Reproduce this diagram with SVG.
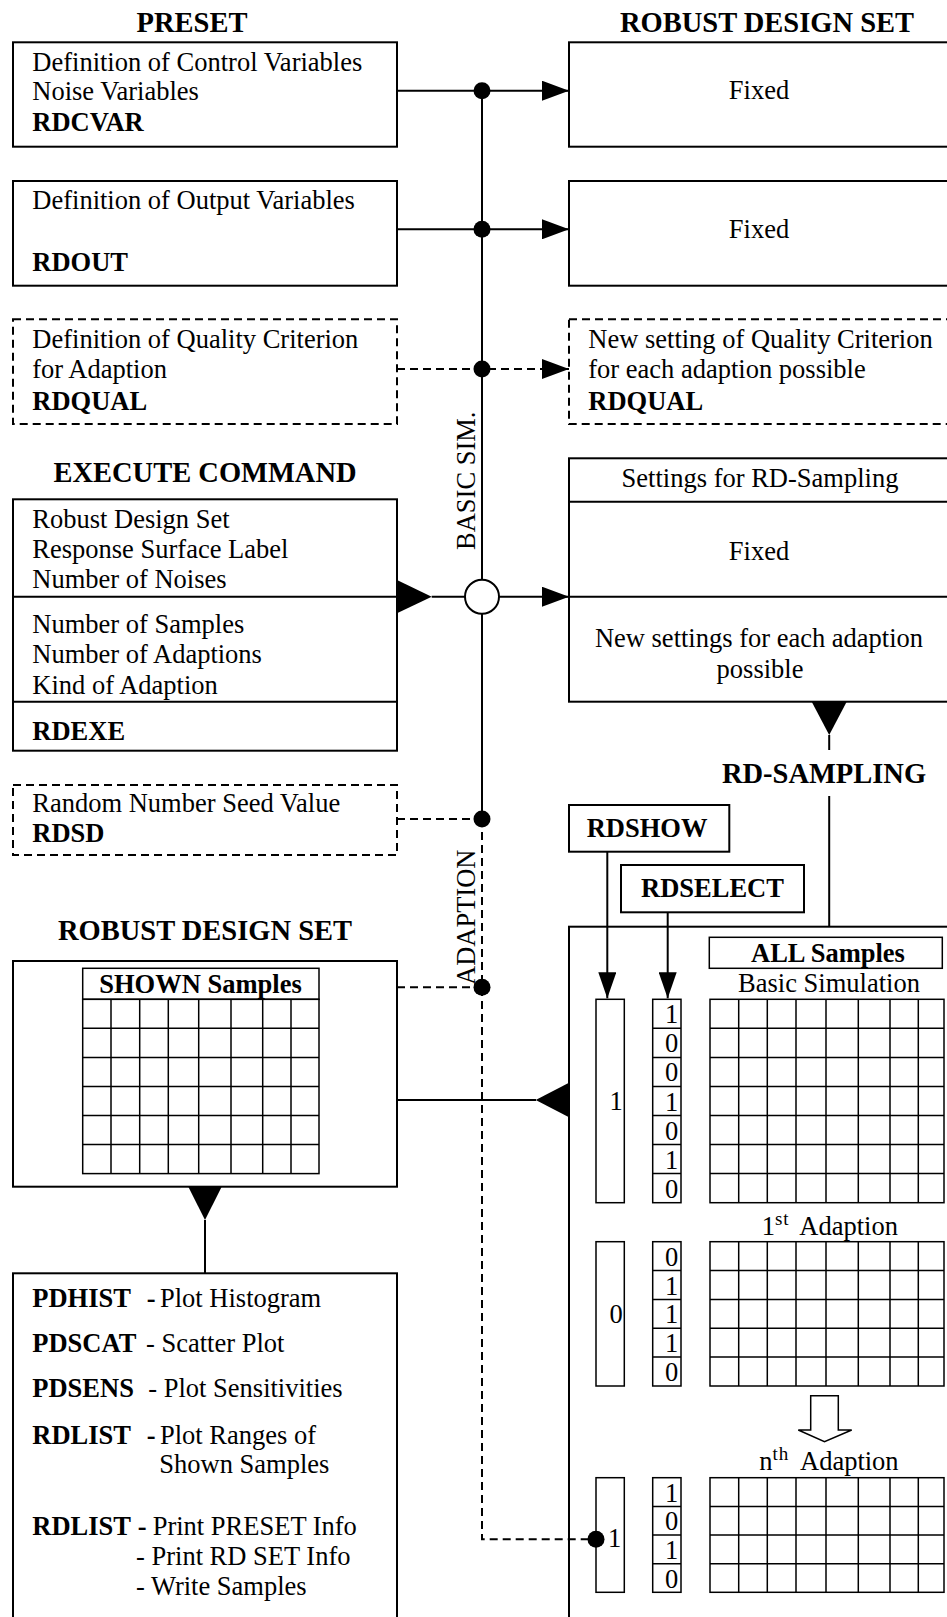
<svg xmlns="http://www.w3.org/2000/svg" width="947" height="1617" viewBox="0 0 947 1617">
<defs>
<style>
text{font-family:"Liberation Serif","Times New Roman",serif;font-size:26.5px;fill:#000}
.b{font-weight:bold}
.t{font-weight:bold;font-size:28.5px;text-anchor:middle}
.m{text-anchor:middle}
.box{fill:#fff;stroke:#000;stroke-width:2}
.dbox{fill:#fff;stroke:#000;stroke-width:2;stroke-dasharray:8 5}
.ln{fill:none;stroke:#000;stroke-width:2}
.dl{fill:none;stroke:#000;stroke-width:2;stroke-dasharray:8 5}
.g{fill:none;stroke:#000;stroke-width:1.5}
.f{fill:#000;stroke:none}
.sup{font-size:19px}
</style>
<marker id="ah" viewBox="0 0 27 20" refX="27" refY="10" markerWidth="27" markerHeight="20" markerUnits="userSpaceOnUse" orient="auto"><path d="M0,0 L27,10 L0,20 Z" fill="#000"/></marker>
<marker id="ah2" viewBox="0 0 26 18" refX="26" refY="9" markerWidth="26" markerHeight="18" markerUnits="userSpaceOnUse" orient="auto"><path d="M0,0 L26,9 L0,18 Z" fill="#000"/></marker>
</defs>
<rect x="0" y="0" width="947" height="1617" fill="#fff"/>

<g id="titles">
<text class="t" x="192" y="32">PRESET</text>
<text class="t" x="767" y="32">ROBUST DESIGN SET</text>
<text class="t" x="205" y="482">EXECUTE COMMAND</text>
<text class="t" x="205" y="940">ROBUST DESIGN SET</text>
<text class="t" x="824" y="783">RD-SAMPLING</text>
<text transform="translate(475,550) rotate(-90)">BASIC SIM.</text>
<text transform="translate(475,985) rotate(-90)">ADAPTION</text>
</g>

<g id="rdcvar">
<rect class="box" x="13" y="42.3" width="384" height="104.4"/>
<text x="32.3" y="70.7">Definition of Control Variables</text>
<text x="32.3" y="100.3">Noise Variables</text>
<text class="b" x="32.3" y="131">RDCVAR</text>
</g>
<g id="rdout">
<rect class="box" x="13" y="181" width="384" height="104.7"/>
<text x="32.3" y="209.3">Definition of Output Variables</text>
<text class="b" x="32.3" y="271">RDOUT</text>
</g>
<g id="rdqual">
<rect class="dbox" x="13" y="319.3" width="384" height="104.7"/>
<text x="32.3" y="348.3">Definition of Quality Criterion</text>
<text x="32.3" y="378.3">for Adaption</text>
<text class="b" x="32.3" y="409.5">RDQUAL</text>
</g>

<g id="fixed1">
<rect class="box" x="569" y="42.3" width="400" height="104.4"/>
<text class="m" x="759" y="99">Fixed</text>
</g>
<g id="fixed2">
<rect class="box" x="569" y="181" width="400" height="104.7"/>
<text class="m" x="759" y="237.7">Fixed</text>
</g>
<g id="rdqual-new">
<rect class="dbox" x="569" y="319.3" width="400" height="104.7"/>
<text x="588.3" y="348.3">New setting of Quality Criterion</text>
<text x="588.3" y="378.3">for each adaption possible</text>
<text class="b" x="588.3" y="409.5">RDQUAL</text>
</g>

<g id="rdexe">
<rect class="box" x="13" y="499.3" width="384" height="251.4"/>
<path class="ln" d="M13,596.7 H397 M13,701.7 H397"/>
<text x="32.3" y="528.3">Robust Design Set</text>
<text x="32.3" y="558.3">Response Surface Label</text>
<text x="32.3" y="588.3">Number of Noises</text>
<text x="32.3" y="633.3">Number of Samples</text>
<text x="32.3" y="663.3">Number of Adaptions</text>
<text x="32.3" y="694">Kind of Adaption</text>
<text class="b" x="32.3" y="740">RDEXE</text>
</g>

<g id="settings">
<rect class="box" x="569" y="458.3" width="400" height="243.4"/>
<path class="ln" d="M569,501.7 H969 M569,596.7 H969"/>
<text class="m" x="760" y="486.7">Settings for RD-Sampling</text>
<text class="m" x="759" y="560">Fixed</text>
<text class="m" x="759" y="646.7">New settings for each adaption</text>
<text class="m" x="760" y="678.3">possible</text>
</g>

<g id="rdsd">
<rect class="dbox" x="13" y="785" width="384" height="70"/>
<text x="32.3" y="811.7">Random Number Seed Value</text>
<text class="b" x="32.3" y="841.5">RDSD</text>
</g>

<g id="rdshow">
<rect class="box" x="569" y="805" width="160.3" height="46.7"/>
<text class="b" x="586.7" y="836.7">RDSHOW</text>
</g>
<g id="rdselect">
<rect class="box" x="621" y="865" width="183" height="47.3"/>
<text class="b m" x="712.5" y="896.7">RDSELECT</text>
</g>

<g id="rd-set">
<rect class="box" x="13" y="961" width="384" height="225.7"/>
<rect class="g" x="82.7" y="968.3" width="236.3" height="31"/>
<text class="b m" x="200.5" y="992.7">SHOWN Samples</text>
<rect class="g" x="82.7" y="999.3" width="236.3" height="174.3"/>
<path class="g" d="M111,999.3 V1173.6 M139.7,999.3 V1173.6 M168.3,999.3 V1173.6 M198.7,999.3 V1173.6 M231,999.3 V1173.6 M262.7,999.3 V1173.6 M291,999.3 V1173.6 M82.7,1028.35 H319 M82.7,1057.4 H319 M82.7,1086.45 H319 M82.7,1115.5 H319 M82.7,1144.55 H319"/>
</g>

<g id="post">
<rect class="box" x="13" y="1273.3" width="384" height="360"/>
<text x="32.3" y="1306.7"><tspan class="b">PDHIST</tspan><tspan class="b" x="146.7">-</tspan><tspan x="160">Plot Histogram</tspan></text>
<text x="32.3" y="1351.7"><tspan class="b">PDSCAT</tspan><tspan x="146">- Scatter Plot</tspan></text>
<text x="32.3" y="1396.7"><tspan class="b">PDSENS</tspan><tspan x="148.3">- Plot Sensitivities</tspan></text>
<text x="32.3" y="1444"><tspan class="b">RDLIST</tspan><tspan class="b" x="146.7">-</tspan><tspan x="160">Plot Ranges of</tspan></text>
<text x="159.3" y="1473.3">Shown Samples</text>
<text x="32.3" y="1535"><tspan class="b">RDLIST</tspan><tspan class="b" x="137.7">-</tspan><tspan x="152.7">Print PRESET Info</tspan></text>
<text x="136" y="1565">- Print RD SET Info</text>
<text x="136" y="1595">- Write Samples</text>
</g>

<g id="rd-sampling">
<rect class="box" x="569" y="926.7" width="400" height="720"/>
<rect class="g" x="709.3" y="937.3" width="233" height="31"/>
<text class="b m" x="828" y="961.7">ALL Samples</text>
<text class="m" x="829" y="991.7">Basic Simulation</text>
<rect class="g" x="596" y="999.3" width="28.3" height="203.4"/>
<text class="m" x="616" y="1110">1</text>
<rect class="g" x="652.7" y="999.3" width="28.3" height="203.4"/>
<path class="g" d="M652.7,1028.35 H681 M652.7,1057.4 H681 M652.7,1086.45 H681 M652.7,1115.5 H681 M652.7,1144.55 H681 M652.7,1173.6 H681"/>
<text class="m" x="671.5" y="1023.3">1</text>
<text class="m" x="671.5" y="1052.4">0</text>
<text class="m" x="671.5" y="1081.4">0</text>
<text class="m" x="671.5" y="1110.5">1</text>
<text class="m" x="671.5" y="1139.5">0</text>
<text class="m" x="671.5" y="1168.6">1</text>
<text class="m" x="671.5" y="1197.6">0</text>
<rect class="g" x="710" y="999.3" width="234" height="203.4"/>
<path class="g" d="M738.7,999.3 V1202.7 M767.3,999.3 V1202.7 M796,999.3 V1202.7 M826,999.3 V1202.7 M858.3,999.3 V1202.7 M890,999.3 V1202.7 M918.3,999.3 V1202.7 M710,1028.35 H944 M710,1057.4 H944 M710,1086.45 H944 M710,1115.5 H944 M710,1144.55 H944 M710,1173.6 H944"/>
<text x="761.7" y="1235">1<tspan class="sup" dy="-10" letter-spacing="1">st</tspan><tspan dy="10" x="799.3">Adaption</tspan></text>
<rect class="g" x="596" y="1241.7" width="28.3" height="144.3"/>
<text class="m" x="616" y="1323.3">0</text>
<rect class="g" x="652.7" y="1241.7" width="28.3" height="144.3"/>
<path class="g" d="M652.7,1270.6 H681 M652.7,1299.4 H681 M652.7,1328.3 H681 M652.7,1357.1 H681"/>
<text class="m" x="671.5" y="1265.7">0</text>
<text class="m" x="671.5" y="1294.6">1</text>
<text class="m" x="671.5" y="1323.4">1</text>
<text class="m" x="671.5" y="1352.3">1</text>
<text class="m" x="671.5" y="1381.1">0</text>
<rect class="g" x="710" y="1241.7" width="234" height="144.3"/>
<path class="g" d="M738.7,1241.7 V1386 M767.3,1241.7 V1386 M796,1241.7 V1386 M826,1241.7 V1386 M858.3,1241.7 V1386 M890,1241.7 V1386 M918.3,1241.7 V1386 M710,1270.6 H944 M710,1299.4 H944 M710,1328.3 H944 M710,1357.1 H944"/>
<path class="g" fill="#fff" d="M810.7,1395.7 H838.3 V1430 H851.7 L824.5,1441.7 L798.3,1430 H810.7 Z"/>
<text x="759.3" y="1470">n<tspan class="sup" dy="-10" letter-spacing="1">th</tspan><tspan dy="10" x="800">Adaption</tspan></text>
<rect class="g" x="596" y="1477.7" width="28.3" height="114.6"/>
<text class="m" x="614.5" y="1547.3">1</text>
<rect class="g" x="652.7" y="1477.7" width="28.3" height="114.6"/>
<path class="g" d="M652.7,1506.4 H681 M652.7,1535 H681 M652.7,1563.7 H681"/>
<text class="m" x="671.5" y="1501.7">1</text>
<text class="m" x="671.5" y="1530.4">0</text>
<text class="m" x="671.5" y="1559">1</text>
<text class="m" x="671.5" y="1587.7">0</text>
<rect class="g" x="710" y="1477.7" width="234" height="114.6"/>
<path class="g" d="M738.7,1477.7 V1592.3 M767.3,1477.7 V1592.3 M796,1477.7 V1592.3 M826,1477.7 V1592.3 M858.3,1477.7 V1592.3 M890,1477.7 V1592.3 M918.3,1477.7 V1592.3 M710,1506.4 H944 M710,1535 H944 M710,1563.7 H944"/>
</g>

<g id="connectors">
<path class="ln" d="M397,90.7 H569" marker-end="url(#ah)"/>
<path class="ln" d="M397,229.3 H569" marker-end="url(#ah)"/>
<path class="dl" d="M397,369 H569" marker-end="url(#ah)"/>
<path class="ln" d="M482,90.7 V819"/>
<path class="dl" d="M482,819 V1539.3 H596"/>
<path class="dl" d="M397,819 H482"/>
<path class="dl" d="M397,987.3 H482"/>
<polygon class="f" points="397,580 431.7,596.7 397,613.3"/>
<path class="ln" d="M431.7,596.7 H465"/>
<circle cx="482" cy="596.7" r="17" fill="#fff" stroke="#000" stroke-width="2"/>
<path class="ln" d="M499,596.7 H569" marker-end="url(#ah)"/>
<polygon class="f" points="811.7,701.7 846.7,701.7 829.2,735"/>
<path class="ln" d="M829.2,735 V750 M829.2,796 V926.7"/>
<path class="ln" d="M607.3,851.7 V998.3" marker-end="url(#ah2)"/>
<path class="ln" d="M667.7,912.3 V998.3" marker-end="url(#ah2)"/>
<path class="ln" d="M397,1100 H536"/>
<polygon class="f" points="569,1082.7 569,1117.3 535.7,1100"/>
<polygon class="f" points="188.3,1186.7 221.7,1186.7 205,1220"/>
<path class="ln" d="M205,1220 V1273.3"/>
<circle class="f" cx="482" cy="90.7" r="8.5"/>
<circle class="f" cx="482" cy="229.3" r="8.5"/>
<circle class="f" cx="482" cy="369" r="8.5"/>
<circle class="f" cx="482" cy="819" r="8.5"/>
<circle class="f" cx="482" cy="987.3" r="8.5"/>
<circle class="f" cx="596" cy="1539.3" r="8.5"/>
</g>
</svg>
